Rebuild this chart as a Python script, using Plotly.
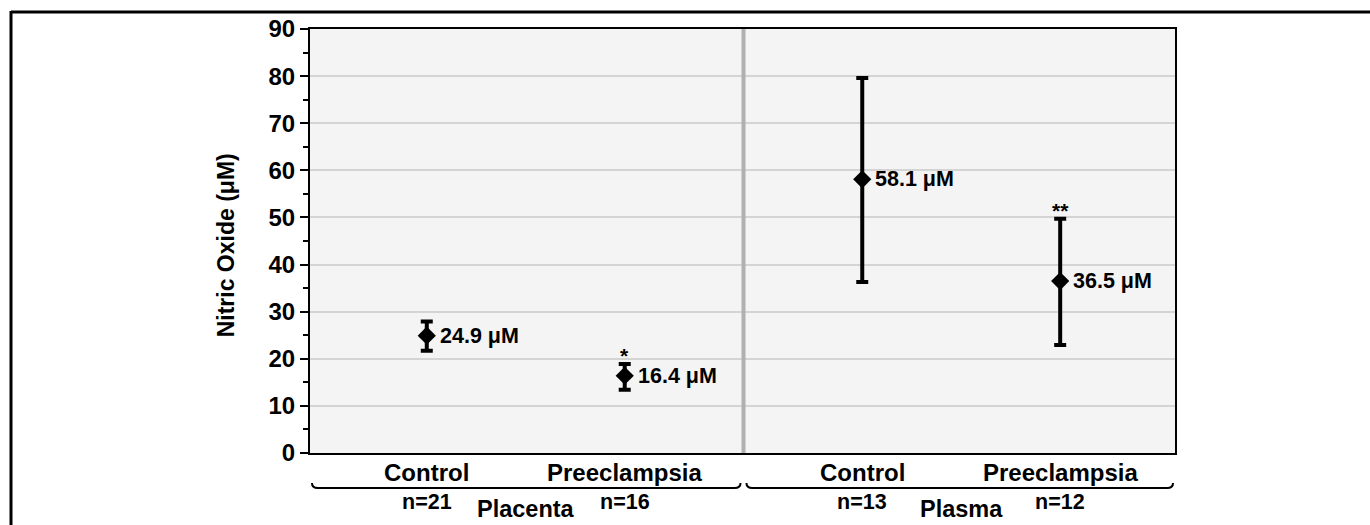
import plotly.graph_objects as go

# ---- data ----
groups = ["Placenta", "Placenta", "Plasma", "Plasma"]
conditions = ["Control", "Preeclampsia", "Control", "Preeclampsia"]
group_names = ["Placenta", "Plasma"]
n_values = [21, 16, 13, 12]
means = [24.9, 16.4, 58.1, 36.5]
err_plus = [3.0, 2.5, 21.5, 13.2]
err_minus = [3.2, 3.0, 21.8, 13.6]
significance = ["", "*", "", "**"]
y_ticks = [0, 10, 20, 30, 40, 50, 60, 70, 80, 90]

FONT = "Liberation Sans, Arial, sans-serif"
GAP = 0.2  # extra spacing between groups (axis units)

grp_idx = [group_names.index(g) for g in groups]
xs = [i + GAP * g for i, g in enumerate(grp_idx)]
sep_x = (xs[1] + xs[2]) / 2
x_min = xs[0] - 0.59
x_max = xs[-1] + 0.58

fig = go.Figure()
fig.add_trace(go.Scatter(
    x=xs, y=means, mode="markers",
    marker=dict(symbol="diamond", size=14, color="black"),
    error_y=dict(type="data", symmetric=False, array=err_plus, arrayminus=err_minus,
                 color="black", thickness=4, width=6),
    showlegend=False, cliponaxis=False,
))

ann = []
# value labels
for x, m in zip(xs, means):
    ann.append(dict(x=x, y=m, xref="x", yref="y", text=f"{m} μM", showarrow=False,
                    xanchor="left", yanchor="middle", xshift=11,
                    font=dict(family=FONT, size=21.5, color="black", weight="bold")))
# significance stars
for x, m, p, s in zip(xs, means, err_plus, significance):
    if s:
        ann.append(dict(x=x, y=m + p, xref="x", yref="y", text=s, showarrow=False,
                        xanchor="center", yanchor="bottom", yshift=-5,
                        font=dict(family=FONT, size=21, color="black", weight="bold")))
# category labels
for x, c in zip(xs, conditions):
    ann.append(dict(x=x, y=-0.047, xref="x", yref="paper", text=c, showarrow=False,
                    xanchor="center", yanchor="middle",
                    font=dict(family=FONT, size=24, color="black", weight="bold")))
# n labels
for x, n in zip(xs, n_values):
    ann.append(dict(x=x, y=-0.116, xref="x", yref="paper", text=f"n={n}", showarrow=False,
                    xanchor="center", yanchor="middle",
                    font=dict(family=FONT, size=21.5, color="black", weight="bold")))
# group labels
for g, name in enumerate(group_names):
    gx = [x for x, gi in zip(xs, grp_idx) if gi == g]
    ann.append(dict(x=sum(gx) / len(gx), y=-0.132, xref="x", yref="paper", text=name,
                    showarrow=False, xanchor="center", yanchor="middle",
                    font=dict(family=FONT, size=23.5, color="black", weight="bold")))
# y-axis title
ann.append(dict(x=-0.097, y=0.49, xref="paper", yref="paper", text="Nitric Oxide (μM)",
                textangle=-90, showarrow=False, xanchor="center", yanchor="middle",
                font=dict(family=FONT, size=23, color="black", weight="bold")))

shapes = []
# vertical separator
shapes.append(dict(type="line", x0=sep_x, x1=sep_x, y0=0, y1=1, xref="x", yref="paper",
                   line=dict(color="#b0b0b0", width=4), layer="above"))
# brackets
by = -0.0825
hy = by + 0.012
d = 0.03
br_ranges = [(x_min + 0.01, sep_x - 0.015), (sep_x + 0.015, x_max - 0.01)]
for x0, x1 in br_ranges:
    path = (f"M {x0},{hy} Q {x0},{by} {x0 + d},{by} L {x1 - d},{by} "
            f"Q {x1},{by} {x1},{hy}")
    shapes.append(dict(type="path", path=path, xref="x", yref="paper",
                       line=dict(color="black", width=2)))
# outer page frame (top and left)
W, H = 1370, 525
L, R, T, B = 310, 195, 29, 72
pw, ph = W - L - R, H - T - B
def px(x):
    return (x - L) / pw
def py(y):
    return (H - B - y) / ph
shapes.append(dict(type="line", xref="paper", yref="paper", x0=px(11), x1=px(1372),
                   y0=py(12), y1=py(12), line=dict(color="black", width=3)))
shapes.append(dict(type="line", xref="paper", yref="paper", x0=px(11), x1=px(11),
                   y0=py(11), y1=py(530), line=dict(color="black", width=3)))

fig.update_layout(
    width=W, height=H,
    margin=dict(l=L, r=R, t=T, b=B, pad=0),
    paper_bgcolor="white", plot_bgcolor="#f4f4f4",
    annotations=ann, shapes=shapes, showlegend=False,
    xaxis=dict(range=[x_min, x_max], showticklabels=False, ticks="", showgrid=False,
               zeroline=False, showline=True, linecolor="black", linewidth=2, mirror=True,
               fixedrange=True),
    yaxis=dict(range=[0, 90], tickvals=y_ticks, ticks="outside", ticklen=8, tickwidth=2,
               tickcolor="black", showgrid=True, gridcolor="#d4d4d4", gridwidth=2,
               zeroline=False, showline=True, linecolor="black", linewidth=2, mirror=True,
               tickfont=dict(family=FONT, size=24, color="black", weight="bold"),
               minor=dict(tickvals=[5, 15, 25, 35, 45, 55, 65, 75, 85], ticks="outside",
                          ticklen=5, tickwidth=2, tickcolor="black", showgrid=False),
               fixedrange=True),
)

fig.write_html("out.html")
